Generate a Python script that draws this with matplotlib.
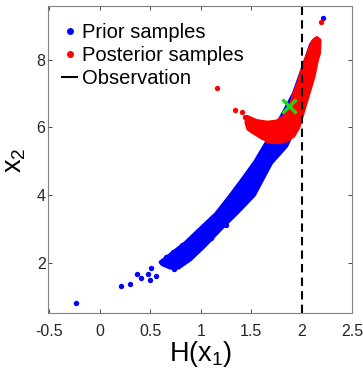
import matplotlib
matplotlib.use("Agg")
import matplotlib.pyplot as plt
from matplotlib.lines import Line2D

plt.rcParams['font.family'] = ['Liberation Sans', 'DejaVu Sans']
plt.rcParams['mathtext.fontset'] = 'custom'
plt.rcParams['mathtext.rm'] = 'Liberation Sans'
plt.rcParams['mathtext.it'] = 'Liberation Sans'

#%% data
# outline of the dense prior cloud (H(x1), x2), up the left edge then down the right
prior_band_x = [0.60, 0.70, 0.85, 0.99, 1.15, 1.29, 1.42, 1.54, 1.64, 1.74, 1.83, 1.92, 1.98, 2.04, 2.09, 2.13, 2.16,
                2.14, 2.08, 2.00, 1.92, 1.85, 1.70, 1.53, 1.37, 1.20, 1.04, 0.90, 0.78, 0.70, 0.62]
prior_band_y = [2.02, 2.25, 2.60, 3.00, 3.45, 3.98, 4.50, 5.00, 5.50, 6.00, 6.50, 7.00, 7.50, 8.00, 8.45, 8.60, 8.50,
                8.00, 7.30, 6.50, 5.90, 5.45, 4.95, 4.00, 3.50, 3.00, 2.50, 2.10, 1.85, 1.85, 1.95]
# isolated / edge prior samples
prior_x = [-0.233, 0.206, 0.30, 0.366, 0.406, 0.473, 0.50, 0.506, 0.556, 0.623, 0.706, 0.74,
           0.66, 0.73, 0.81, 0.88, 0.95, 1.02, 1.10, 1.25, 1.45, 2.21]
prior_y = [0.81, 1.32, 1.38, 1.68, 1.55, 1.68, 1.48, 1.84, 1.62, 2.00, 1.90, 1.82,
           2.18, 2.33, 2.52, 2.66, 2.80, 2.97, 2.72, 3.12, 3.85, 9.23]

# outline of the dense posterior cloud
post_band_x = [1.46, 1.55, 1.66, 1.75, 1.83, 1.88, 1.92, 1.97, 2.02, 2.07, 2.11, 2.15, 2.18,
               2.175, 2.155, 2.12, 2.07, 2.02, 1.97, 1.92, 1.86, 1.79, 1.70, 1.60, 1.52, 1.47, 1.45]
post_band_y = [6.32, 6.20, 6.15, 6.18, 6.33, 6.55, 6.95, 7.35, 7.85, 8.25, 8.55, 8.65, 8.58,
               8.20, 8.00, 7.50, 7.00, 6.50, 6.00, 5.75, 5.62, 5.56, 5.56, 5.70, 5.85, 5.95, 6.15]
# isolated / edge posterior samples
post_x = [1.16, 1.34, 1.41, 1.44, 1.48, 1.52, 1.60, 1.66, 2.19]
post_y = [7.17, 6.53, 6.45, 6.30, 6.20, 5.92, 5.78, 5.62, 9.12]

obs = 2.0                  # observed H(x1)
truth = (1.873, 6.62)      # green cross

#%% plot
fig = plt.figure(figsize=(3.63, 3.69), dpi=100)
ax = fig.add_axes([0.133, 0.151, 0.837, 0.832])

ax.fill(prior_band_x, prior_band_y, color='#0000ff', lw=2.5, joinstyle='round')
ax.scatter(prior_x, prior_y, s=15, color='#0000ff', lw=0)
ax.fill(post_band_x, post_band_y, color='#ff0000', lw=2.5, joinstyle='round')
ax.scatter(post_x, post_y, s=15, color='#ff0000', lw=0)
ax.axvline(obs, color='k', ls=(0, (4, 2.5)), lw=1.5)
ax.plot(*truth, marker='x', color='#11dd11', ms=10, mew=2.5, ls='none')

ax.set_xlim(-0.51, 2.5)
ax.set_ylim(0.51, 9.58)
ax.set_xticks([-0.5, 0, 0.5, 1, 1.5, 2, 2.5])
ax.set_xticklabels(['-0.5', '0', '0.5', '1', '1.5', '2', '2.5'])
ax.set_yticks([2, 4, 6, 8])
ax.tick_params(direction='in', top=True, right=True, labelsize=11.5, colors='#262626',
               length=3, width=0.6)
ax.tick_params(axis='x', pad=8)
ax.tick_params(axis='y', pad=2)
for s in ax.spines.values():
    s.set_color('#808080')
    s.set_linewidth(0.8)

ax.set_xlabel(r'H(x$_1$)', fontsize=19.5, labelpad=0)
ax.set_ylabel(r'x$_2$', fontsize=19.5, labelpad=6)

handles = [Line2D([], [], marker='o', color='#0000ff', ls='none', ms=4),
           Line2D([], [], marker='o', color='#ff0000', ls='none', ms=4),
           Line2D([], [], color='k', lw=1.5)]
ax.legend(handles, ['Prior samples', 'Posterior samples', 'Observation'], loc='upper left',
          bbox_to_anchor=(0.033, 0.96), frameon=False, fontsize=14.5, handlelength=0.75,
          handletextpad=0.22, labelspacing=0.22, borderaxespad=0, borderpad=0.2)

fig.savefig('out.png', dpi=100)
